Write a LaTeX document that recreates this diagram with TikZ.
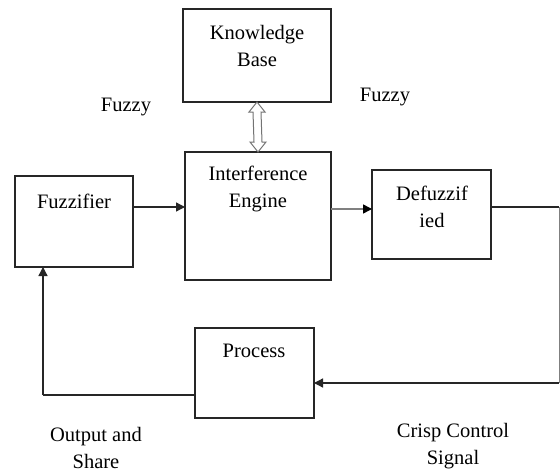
\documentclass[tikz,border=0pt]{standalone}
\usepackage{fontspec}
\setmainfont{Liberation Serif}
\usetikzlibrary{arrows.meta,calc}
\begin{document}
\begin{tikzpicture}[x=1pt,y=-1pt,
  blk/.style={draw=black!85, line width=1.2pt, rectangle, inner sep=0pt, outer sep=0pt},
  txt/.style={font=\fontsize{20.5}{27}\selectfont, align=center, inner sep=0pt, text=black},
  conn/.style={draw=black!85, line width=1.3pt},
  tip/.style={-{Triangle[length=9pt,width=9pt]}}
]
\useasboundingbox[fill=white] (0,0) rectangle (560,474);
% boxes
\node[blk, minimum width=148pt, minimum height=93pt] (kb) at (257,55.5) {};
\node[blk, minimum width=146pt, minimum height=128pt] (ie) at (258,216) {};
\node[blk, minimum width=118pt, minimum height=91pt] (fz) at (74,221.5) {};
\node[blk, minimum width=119pt, minimum height=89pt] (df) at (431.5,214.5) {};
\node[blk, minimum width=119pt, minimum height=90pt] (pr) at (254.5,373) {};
% texts
\node[txt] (kbt) at (257,46) {Knowledge\\Base};
\node[txt] (iet) at (258,188.5) {Interference\\Engine};
\node[txt] (fzt) at (74,201) {Fuzzifier};
\node[txt] (dft) at (432,207) {Defuzzif\\ied};
\node[txt] (prt) at (254,351) {Process};
\node[txt] (fl) at (126,107) {Fuzzy};
\node[txt] (fr) at (385,97) {Fuzzy};
\node[txt] (os) at (96,447.5) {Output and\\Share};
\node[txt] (cs) at (453,446.5) {Crisp Control\\Signal};
% helper coordinates
\coordinate (y1) at (0,207);
\coordinate (y2) at (0,209);
\coordinate (c1) at (559,207);
\coordinate (c2) at (559,383);
\coordinate (c3) at (43,395);
% hollow double arrow between knowledge base and engine
\draw[draw=black!55, line width=1pt, fill=white, line join=miter]
  (kb.south) -- ++(8,10) -- ++(-4,0) -- ($(ie.north)+(4,-10)$) -- ++(4,0)
  -- (ie.north) -- ++(-8,-10) -- ++(4,0) -- ($(kb.south)+(-4,10)$) -- ++(-4,0) -- cycle;
% connectors
\draw[conn, tip] (fz.east |- y1) -- (ie.west |- y1);
\draw[draw=black!50, line width=1.6pt, -{Triangle[length=9pt,width=9pt,fill=black,color=black]}] (ie.east |- y2) -- (df.west |- y2);
\draw[conn] (df.east |- y1) -- (c1);
\draw[draw=black!50, line width=1pt] (c1) -- (c2);
\draw[conn, tip] (c2) -- (pr.east |- c2);
\draw[conn] (pr.west |- c3) -- (c3);
\draw[conn, tip] (c3) -- (fz.south -| c3);
\end{tikzpicture}
\end{document}
